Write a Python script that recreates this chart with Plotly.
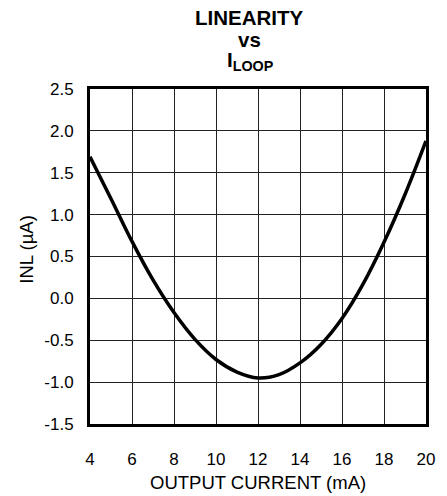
import plotly.graph_objects as go

# Data
output_current_ma = [4, 5, 6, 7, 8, 9, 10, 11, 12, 13, 14, 15, 16, 17, 18, 19, 20]
inl_ua = [1.69, 1.19, 0.68, 0.22, -0.17, -0.49, -0.73, -0.88, -0.95, -0.91, -0.77, -0.55, -0.24, 0.17, 0.67, 1.24, 1.88]

x_ticks = [4, 6, 8, 10, 12, 14, 16, 18, 20]
y_ticks = [-1.5, -1.0, -0.5, 0.0, 0.5, 1.0, 1.5, 2.0, 2.5]

FONT = "Liberation Sans, Arial, sans-serif"

fig = go.Figure()
fig.add_trace(go.Scatter(
    x=output_current_ma, y=inl_ua, mode="lines",
    line=dict(color="black", width=3.5, shape="spline", smoothing=1.0),
    showlegend=False, hoverinfo="skip",
))

# page body has an 8px margin; figure is sized to fit inside the window
OFF = 8
W, H = 447 - OFF, 496 - OFF
L, R, T, B = 90 - OFF, 17, 89 - OFF, 72
PW, PH = W - L - R, H - T - B


def px_x(page_x):
    return (page_x - OFF - L) / PW


def px_y(page_y):
    return (H - B - (page_y - OFF)) / PH


fig.update_layout(
    width=W, height=H,
    margin=dict(l=L, r=R, t=T, b=B, pad=0),
    paper_bgcolor="white", plot_bgcolor="white",
    font=dict(family=FONT, size=17, color="black"),
    xaxis=dict(
        range=[4, 20], tickvals=x_ticks, ticktext=[str(v) for v in x_ticks],
        showgrid=True, gridcolor="#222", gridwidth=1,
        showline=True, linecolor="black", linewidth=3, mirror=True,
        zeroline=False, ticks="", ticklabelstandoff=18,
        tickfont=dict(size=17, family=FONT, color="black"),
    ),
    yaxis=dict(
        range=[-1.5, 2.5], tickvals=y_ticks, ticktext=[f"{v:.1f}" for v in y_ticks],
        showgrid=True, gridcolor="#222", gridwidth=1,
        showline=True, linecolor="black", linewidth=3, mirror=True,
        zeroline=False, ticks="", ticklabelstandoff=10,
        tickfont=dict(size=17, family=FONT, color="black"),
    ),
    annotations=[
        dict(text="<b>LINEARITY</b>", xref="paper", yref="paper",
             x=px_x(251), y=px_y(17), xanchor="center", yanchor="middle", showarrow=False,
             font=dict(size=20.5, family=FONT, color="black")),
        dict(text="<b>vs</b>", xref="paper", yref="paper",
             x=px_x(251), y=px_y(39), xanchor="center", yanchor="middle", showarrow=False,
             font=dict(size=20.5, family=FONT, color="black")),
        dict(text="<b>I<sub>LOOP</sub></b>", xref="paper", yref="paper",
             x=px_x(252), y=px_y(61), xanchor="center", yanchor="middle", showarrow=False,
             font=dict(size=20.5, family=FONT, color="black")),
        dict(text="OUTPUT CURRENT (mA)", xref="paper", yref="paper",
             x=0.5, y=px_y(482), xanchor="center", yanchor="middle", showarrow=False,
             font=dict(size=18.5, family=FONT, color="black")),
        dict(text="INL (µA)", xref="paper", yref="paper",
             x=px_x(25), y=px_y(249), xanchor="center", yanchor="middle",
             showarrow=False, textangle=-90,
             font=dict(size=18.5, family=FONT, color="black")),
    ],
)

fig.write_html("out.html")
